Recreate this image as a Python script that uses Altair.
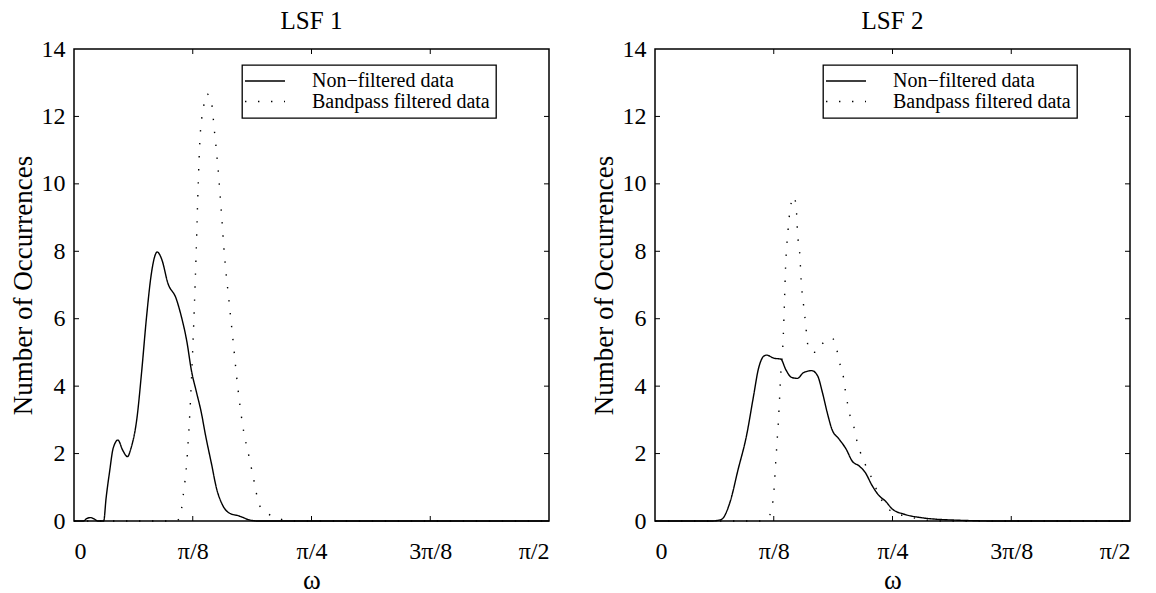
import json
import numpy as np
import pandas as pd
import altair as alt

PI8 = np.pi / 8  # x values below are in units of pi/8

series_names = ["Non\u2212filtered data", "Bandpass filtered data"]
panel_titles = ["LSF 1", "LSF 2"]

# LSF 1, non-filtered (solid)
lsf1_solid_x = [0.0, 0.08, 0.11, 0.14, 0.17, 0.2, 0.25, 0.27, 0.30, 0.33, 0.37, 0.41, 0.45, 0.48,
                0.53, 0.57, 0.61, 0.65, 0.68, 0.70, 0.74, 0.79, 0.86, 0.90, 0.95, 0.99, 1.03,
                1.07, 1.11, 1.16, 1.20, 1.25, 1.31, 1.39, 1.48, 1.55, 4.0]
lsf1_solid_y = [0.0, 0.0, 0.08, 0.1, 0.06, 0.0, 0.0, 0.67, 1.47, 2.16, 2.4, 2.1, 1.91, 2.16,
                3.05, 4.44, 6.02, 7.3, 7.85, 7.98, 7.75, 7.06, 6.6, 6.12, 5.33, 4.44, 3.84,
                3.25, 2.5, 1.66, 0.97, 0.48, 0.23, 0.15, 0.03, 0.0, 0.0]

# LSF 1, bandpass filtered (dotted)
lsf1_dot_x = [0.0, 0.85, 0.89, 0.92, 0.95, 0.97, 0.99, 1.01, 1.03, 1.045, 1.06, 1.09, 1.12, 1.16,
              1.18, 1.21, 1.24, 1.27, 1.30, 1.34, 1.38, 1.42, 1.48, 1.52, 1.56, 1.63, 1.72, 1.82, 4.0]
lsf1_dot_y = [0.0, 0.0, 0.08, 0.77, 1.76, 2.85, 4.24, 6.02, 8.1, 9.88, 11.27, 12.26, 12.67, 12.36,
              11.66, 10.57, 9.19, 7.75, 6.7, 5.33, 3.94, 2.85, 1.81, 1.12, 0.48, 0.23, 0.08, 0.0, 0.0]

# LSF 2, non-filtered (solid)
lsf2_solid_x = [0.0, 0.48, 0.56, 0.63, 0.70, 0.77, 0.83, 0.87, 0.92, 0.94, 1.0, 1.06, 1.10, 1.15,
                1.20, 1.25, 1.32, 1.37, 1.41, 1.45, 1.49, 1.55, 1.61, 1.66, 1.72, 1.77, 1.83,
                1.89, 1.94, 2.0, 2.1, 2.24, 2.5, 2.9, 4.0]
lsf2_solid_y = [0.0, 0.0, 0.05, 0.54, 1.53, 2.52, 3.71, 4.5, 4.9, 4.92, 4.83, 4.8, 4.5, 4.26,
                4.23, 4.4, 4.46, 4.3, 3.81, 3.22, 2.72, 2.43, 2.13, 1.78, 1.63, 1.44, 1.04,
                0.74, 0.59, 0.35, 0.2, 0.1, 0.03, 0.0, 0.0]

# LSF 2, bandpass filtered (dotted)
lsf2_dot_x = [0.0, 0.9, 0.97, 1.0, 1.02, 1.04, 1.06, 1.08, 1.09, 1.10, 1.12, 1.14, 1.17, 1.19,
              1.20, 1.22, 1.23, 1.25, 1.27, 1.28, 1.30, 1.36, 1.42, 1.49, 1.53, 1.55, 1.58,
              1.61, 1.65, 1.68, 1.70, 1.73, 1.77, 1.81, 1.85, 1.89, 1.94, 2.01, 2.11, 2.21, 2.4, 4.0]
lsf2_dot_y = [0.0, 0.0, 0.2, 0.84, 1.93, 3.02, 4.4, 5.45, 6.49, 7.57, 8.61, 9.3, 9.63, 9.26,
              8.56, 7.87, 7.18, 6.44, 5.79, 5.4, 5.05, 5.0, 5.3, 5.43, 5.1, 4.75, 4.4,
              3.71, 3.02, 2.72, 2.38, 2.03, 1.68, 1.39, 1.06, 0.74, 0.45, 0.25, 0.15, 0.07, 0.0, 0.0]

x_tick_units = [0, 1, 2, 3, 4]
x_tick_labels = ["0", "\u03c0/8", "\u03c0/4", "3\u03c0/8", "\u03c0/2"]
y_ticks = [0, 2, 4, 6, 8, 10, 12, 14]

W, H = 475, 472
TICK = 5
FONT = "Liberation Serif"

label_expr = json.dumps(x_tick_labels, ensure_ascii=False) + "[round(datum.value / (PI / 8))]"


def panel(title, sx, sy, dx, dy):
    df = pd.concat([
        pd.DataFrame({"omega": np.array(sx) * PI8, "count": sy, "series": series_names[0]}),
        pd.DataFrame({"omega": np.array(dx) * PI8, "count": dy, "series": series_names[1]}),
    ], ignore_index=True)

    xenc = alt.X("omega:Q",
                 scale=alt.Scale(domain=[0, np.pi / 2], nice=False, zero=False),
                 axis=alt.Axis(values=[v * PI8 for v in x_tick_units], labelExpr=label_expr,
                               title="\u03c9", labelPadding=18, titlePadding=4))
    yenc = alt.Y("count:Q",
                 scale=alt.Scale(domain=[0, 14], nice=False),
                 axis=alt.Axis(values=y_ticks, title="Number of Occurrences",
                               labelPadding=9, titlePadding=4))

    lines = alt.Chart(df).mark_line(interpolate="monotone", color="black", strokeWidth=1.4).encode(
        x=xenc, y=yenc,
        strokeDash=alt.StrokeDash(
            "series:N",
            scale=alt.Scale(domain=series_names, range=[[1, 0], [1.4, 11.6]]),
            legend=alt.Legend(title=None, orient="none", legendX=168, legendY=16),
        ),
    )

    xt = pd.DataFrame({"omega": [v * PI8 for v in x_tick_units[1:-1]]})
    yt = pd.DataFrame({"count": y_ticks[1:-1]})
    xb = alt.Chart(xt).mark_rule(color="black", strokeWidth=1).encode(
        x=xenc, y=alt.value(H), y2=alt.value(H - TICK))
    xtp = alt.Chart(xt).mark_rule(color="black", strokeWidth=1).encode(
        x=xenc, y=alt.value(0), y2=alt.value(TICK))
    yl = alt.Chart(yt).mark_rule(color="black", strokeWidth=1).encode(
        y=yenc, x=alt.value(0), x2=alt.value(TICK))
    yr = alt.Chart(yt).mark_rule(color="black", strokeWidth=1).encode(
        y=yenc, x=alt.value(W), x2=alt.value(W - TICK))

    return alt.layer(lines, xb, xtp, yl, yr).properties(
        width=W, height=H,
        title=alt.Title(title, font=FONT, fontSize=25, fontWeight="normal", color="black",
                        anchor="middle", frame="group", baseline="bottom", offset=-22),
    )


p1 = panel(panel_titles[0], lsf1_solid_x, lsf1_solid_y, lsf1_dot_x, lsf1_dot_y)
p2 = panel(panel_titles[1], lsf2_solid_x, lsf2_solid_y, lsf2_dot_x, lsf2_dot_y)

chart = (
    alt.hconcat(p1, p2, spacing=106, bounds="flush")
    .resolve_scale(strokeDash="independent")
    .resolve_legend(strokeDash="independent")
    .properties(padding={"left": 0, "top": 0, "right": 5, "bottom": 5}, background="white")
    .configure_view(stroke="black", strokeWidth=1.5)
    .configure_axis(domain=False, ticks=False, tickSize=0, grid=False,
                    labelFont=FONT, labelFontSize=24, labelColor="black",
                    titleFont=FONT, titleFontSize=27, titleFontWeight="normal", titleColor="black")
    .configure_legend(strokeColor="black", strokeWidth=1.3, fillColor="white", padding=6,
                      symbolType="M-4,0H4", symbolSize=100, symbolStrokeWidth=1.4,
                      symbolStrokeColor="black", symbolOffset=7,
                      labelFont=FONT, labelFontSize=20, labelColor="black", labelOffset=37,
                      labelLimit=400, rowPadding=0.5)
)

chart.save("out.html", embed_options={"renderer": "svg", "actions": False})
